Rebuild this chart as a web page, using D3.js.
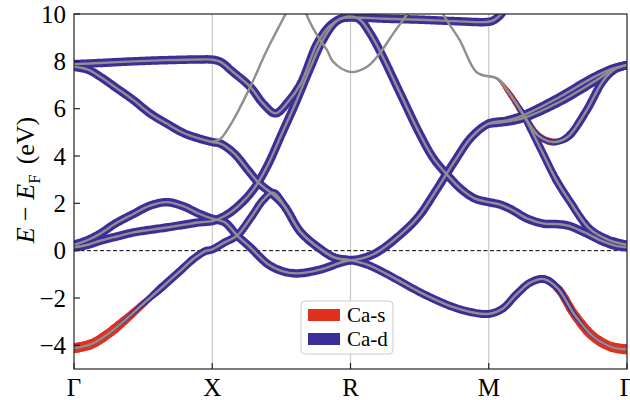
<!DOCTYPE html>
<html>
<head>
<meta charset="utf-8">
<script src="https://cdn.jsdelivr.net/npm/d3@7"></script>
<style>
body { margin: 0; background: #fff; }
svg { display: block; }
</style>
</head>
<body>
<div id="chart"></div>
<script>
// k-path and ticks
const kTicks = [0, 1, 2, 3, 4];
const kLabels = ["Γ", "X", "R", "M", "Γ"];
const eTicks = [-4, -2, 0, 2, 4, 6, 8, 10];

// bands: [k, E (eV)]
const bandTop = [[0,7.88],[0.19,7.93],[0.43,8.0],[0.67,8.05],[0.91,8.08],[1.0,8.07],[1.06,7.98],[1.15,7.55],[1.275,6.92],[1.37,6.2],[1.457,5.8],[1.55,6.3],[1.64,7.06],[1.76,8.76],[1.85,9.5],[1.93,9.8],[2.0,9.85],[2.25,9.8],[2.5,9.76],[2.75,9.7],[3.0,9.67],[3.04,9.75],[3.09,10.0],[3.13,10.4]];
const bandD = [[0,7.77],[0.1,7.65],[0.19,7.35],[0.3,6.9],[0.43,6.36],[0.55,5.8],[0.67,5.37],[0.8,4.95],[0.91,4.73],[1.0,4.59],[1.06,4.52],[1.16,4.1],[1.26,3.39],[1.34,2.84],[1.43,2.42],[1.52,1.9],[1.64,0.78],[1.78,0.08],[1.88,-0.28],[2.0,-0.4],[2.17,-0.14],[2.375,0.75],[2.5,1.5],[2.625,2.6],[2.75,3.75],[2.875,4.8],[3.0,5.37],[3.13,5.5],[3.25,5.72],[3.5,6.45],[3.75,7.3],[3.9,7.7],[4.0,7.84]];
const bandLow = [[0,-4.12],[0.125,-3.95],[0.25,-3.5],[0.375,-2.9],[0.5,-2.25],[0.625,-1.6],[0.75,-0.95],[0.875,-0.3],[0.95,-0.02],[1.0,0.05],[1.09,0.35],[1.18,0.64],[1.28,1.4],[1.37,2.15],[1.44,2.45],[1.52,1.9],[1.64,0.78],[1.78,0.08],[1.88,-0.28],[2.0,-0.4],[2.125,-0.6],[2.25,-0.95],[2.375,-1.35],[2.5,-1.75],[2.625,-2.1],[2.75,-2.4],[2.875,-2.6],[3.0,-2.67],[3.1,-2.45],[3.2,-1.85],[3.3,-1.35],[3.4,-1.2],[3.5,-1.6],[3.62,-2.7],[3.75,-3.6],[3.88,-4.05],[4.0,-4.17]];
const bandB = [[0,0.14],[0.1,0.25],[0.19,0.42],[0.31,0.6],[0.43,0.77],[0.55,0.88],[0.67,0.98],[0.8,1.1],[0.91,1.2],[1.0,1.25],[1.1,1.5],[1.2,1.95],[1.3,2.6],[1.4,3.6],[1.5,4.9],[1.6,6.2],[1.7,7.6],[1.8,8.9],[1.9,9.7],[2.0,9.9],[2.07,9.75],[2.14,9.2],[2.21,8.47],[2.36,6.64],[2.5,4.94],[2.6,3.9],[2.7,3.2],[2.8,2.6],[2.9,2.2],[3.0,2.05],[3.08,1.95],[3.16,1.75],[3.28,1.35],[3.4,1.14],[3.5,1.12],[3.58,1.05],[3.7,0.75],[3.83,0.38],[3.92,0.2],[4.0,0.14]];
const bandC = [[0,0.25],[0.1,0.45],[0.19,0.72],[0.3,1.15],[0.43,1.55],[0.55,1.9],[0.67,2.05],[0.78,1.9],[0.91,1.55],[1.0,1.35],[1.09,1.2],[1.18,0.64],[1.275,0.14],[1.4,-0.56],[1.5,-0.85],[1.61,-0.96],[1.78,-0.8],[1.93,-0.5],[2.0,-0.4]];
const bandSteep = [[3.0,7.37],[3.06,7.27],[3.15,6.64],[3.25,5.75],[3.37,4.37],[3.49,2.97],[3.59,2.05],[3.73,0.92],[3.87,0.45],[4.0,0.25]];
const bandDip = [[3.0,7.37],[3.06,7.27],[3.15,6.64],[3.25,5.75],[3.36,4.85],[3.47,4.59],[3.57,4.8],[3.7,5.85],[3.83,7.2],[3.92,7.7],[4.0,7.84]];
const bandRise = [[3.0,5.37],[3.13,5.45],[3.25,5.6],[3.5,6.25],[3.75,7.1],[3.9,7.65],[4.0,7.84]];
const grayX = [[1.0,4.59],[1.06,4.73],[1.15,5.5],[1.275,6.92],[1.395,8.47],[1.53,10.0],[1.58,10.6]];
const grayR = [[1.64,10.7],[1.68,10.0],[1.73,9.39],[1.77,9.0],[1.83,8.47],[1.875,7.98],[2.0,7.55],[2.12,7.77],[2.21,8.33],[2.31,9.18],[2.41,10.0],[2.45,10.4]];
const grayM = [[2.64,10.6],[2.67,10.0],[2.79,8.9],[2.91,7.55],[3.0,7.37]];

// orbital weights along k: [k, Ca-d, Ca-s]
const wFull = [[0,1,0],[4,1,0]];
const wNone = [[0,0,0],[4,0,0]];
const wLow = [[0,0.2,1.2],[0.3,0.3,1.1],[0.5,0.65,0.8],[0.64,0.95,0],[3.42,0.95,0],[3.5,0.8,0.95],[3.7,0.4,1.1],[4.0,0.2,1.2]];
const wDip = [[3.0,0,0],[3.05,0,0.2],[3.15,0.4,0.65],[3.3,0.6,0.8],[3.47,0.7,0.85],[3.52,0.75,0],[3.6,0.95,0],[4.0,1,0]];
const wSteep = [[3.0,0,0],[3.15,0.35,0],[3.3,0.9,0],[4.0,1,0]];

const bands = [
  {pts: bandTop, w: wFull}, {pts: bandD, w: wFull}, {pts: bandLow, w: wLow},
  {pts: bandB, w: wFull}, {pts: bandC, w: wFull}, {pts: bandDip, w: wDip},
  {pts: bandSteep, w: wSteep}, {pts: bandRise, w: wFull},
  {pts: grayX, w: wNone}, {pts: grayR, w: wNone}, {pts: grayM, w: wNone}
];

const colS = "#e0301e", colD = "#3b2d9a", colGray = "#8f8f8f";
const maxW = 8.5;
const serif = "Liberation Serif";

const margin = {left: 74, right: 3, top: 14, bottom: 31};
const width = 630, height = 400;

const x = d3.scaleLinear().domain([0, 4]).range([margin.left, width - margin.right]);
const y = d3.scaleLinear().domain([-5, 10]).range([height - margin.bottom, margin.top]);

const svg = d3.select("#chart").append("svg")
    .attr("width", width)
    .attr("height", height)
    .attr("font-family", serif);

svg.append("clipPath").attr("id", "plot")
  .append("rect")
    .attr("x", x(0)).attr("y", y(10))
    .attr("width", x(4) - x(0)).attr("height", y(-5) - y(10));

const plot = svg.append("g").attr("clip-path", "url(#plot)");

// high-symmetry lines
plot.selectAll(".kline")
  .data(kTicks.slice(1, -1))
  .enter().append("line")
    .attr("x1", d => x(d)).attr("x2", d => x(d))
    .attr("y1", y(10)).attr("y2", y(-5))
    .attr("stroke", "#c8c8c8").attr("stroke-width", 1.2);

// Fermi level
plot.append("line")
    .attr("x1", x(0)).attr("x2", x(4))
    .attr("y1", y(0)).attr("y2", y(0))
    .attr("stroke", "black").attr("stroke-width", 1)
    .attr("stroke-dasharray", "4,2.5");

const line = d3.line()
    .x(d => x(d[0])).y(d => y(d[1]))
    .curve(d3.curveCatmullRom.alpha(0.5));

const sLayer = plot.append("g");
const dLayer = plot.append("g");
const gLayer = plot.append("g");

// fat-band: stroke width follows the weight, drawn in runs of equal width
function fatRuns(layer, samples, widthAt, color) {
  let run = [samples[0]], cur = widthAt(0);
  function flush() {
    if (cur > 0.4 && run.length > 1) {
      layer.append("path")
        .attr("d", d3.line().x(p => p.x).y(p => p.y)(run))
        .attr("fill", "none").attr("stroke", color)
        .attr("stroke-width", cur)
        .attr("stroke-linecap", "round").attr("stroke-linejoin", "round");
    }
  }
  for (let i = 1; i < samples.length; i++) {
    const w = widthAt(i);
    run.push(samples[i]);
    if (w !== cur) {
      flush();
      run = [samples[i]];
      cur = w;
    }
  }
  flush();
}

bands.forEach(b => {
  const dStr = line(b.pts);
  const tmp = svg.append("path").attr("d", dStr).attr("fill", "none");
  const node = tmp.node();
  const L = node.getTotalLength();
  const samples = [];
  for (let l = 0; l < L; l += 1.5) samples.push(node.getPointAtLength(l));
  samples.push(node.getPointAtLength(L));
  tmp.remove();

  const ks = b.w.map(r => r[0]);
  const dW = d3.scaleLinear().domain(ks).range(b.w.map(r => r[1])).clamp(true);
  const sW = d3.scaleLinear().domain(ks).range(b.w.map(r => r[2])).clamp(true);
  const kAt = i => x.invert(samples[i].x);
  const q = v => Math.round(v * maxW * 4) / 4;

  fatRuns(sLayer, samples, i => q(sW(kAt(i))), colS);
  fatRuns(dLayer, samples, i => q(dW(kAt(i))), colD);

  gLayer.append("path")
      .attr("d", dStr)
      .attr("fill", "none")
      .attr("stroke", colGray)
      .attr("stroke-width", 2.4);
});

// frame
svg.append("rect")
    .attr("x", x(0)).attr("y", y(10))
    .attr("width", x(4) - x(0)).attr("height", y(-5) - y(10))
    .attr("fill", "none").attr("stroke", "#222").attr("stroke-width", 1.2);

// y ticks (inward)
svg.selectAll(".ytick")
  .data(eTicks)
  .enter().append("line")
    .attr("x1", x(0)).attr("x2", x(0) + 6)
    .attr("y1", d => y(d)).attr("y2", d => y(d))
    .attr("stroke", "#222").attr("stroke-width", 1.2);

svg.selectAll(".ylab")
  .data(eTicks)
  .enter().append("text")
    .attr("x", x(0) - 8)
    .attr("y", d => y(d) + 8.5)
    .attr("text-anchor", "end")
    .attr("font-family", serif)
    .attr("font-size", 25)
    .text(d => d < 0 ? "\u2212" + Math.abs(d) : d);

// x ticks (inward)
svg.selectAll(".xtick")
  .data(kTicks)
  .enter().append("line")
    .attr("x1", d => x(d)).attr("x2", d => x(d))
    .attr("y1", y(-5)).attr("y2", y(-5) - 6)
    .attr("stroke", "#222").attr("stroke-width", 1.2);

svg.selectAll(".xlab")
  .data(kTicks)
  .enter().append("text")
    .attr("x", d => x(d))
    .attr("y", 396)
    .attr("text-anchor", "middle")
    .attr("font-family", serif)
    .attr("font-size", 25)
    .text((d, i) => kLabels[i]);

// y axis title
const yt = svg.append("text")
    .attr("transform", "translate(34,180) rotate(-90)")
    .attr("text-anchor", "middle")
    .attr("font-family", serif)
    .attr("font-size", 26);
yt.append("tspan").attr("font-style", "italic").text("E");
yt.append("tspan").text(" \u2212 ");
yt.append("tspan").attr("font-style", "italic").text("E");
yt.append("tspan").attr("font-size", 17).attr("dy", 6).text("F");
yt.append("tspan").attr("dy", -6).attr("dx", 10).text("(eV)");

// legend
const legendItems = ["Ca-s", "Ca-d"];
const legendColors = [colS, colD];
const lg = svg.append("g").attr("transform", "translate(301,301)");
lg.append("rect")
    .attr("width", 92).attr("height", 53).attr("rx", 4)
    .attr("fill", "white").attr("fill-opacity", 0.85)
    .attr("stroke", "#cccccc");
legendItems.forEach((t, i) => {
  lg.append("rect")
      .attr("x", 7).attr("y", 8 + i * 24)
      .attr("width", 32).attr("height", 12)
      .attr("fill", legendColors[i]);
  lg.append("text")
      .attr("x", 46).attr("y", 21 + i * 24)
      .attr("font-family", serif)
      .attr("font-size", 21)
      .text(t);
});
</script>
</body>
</html>
